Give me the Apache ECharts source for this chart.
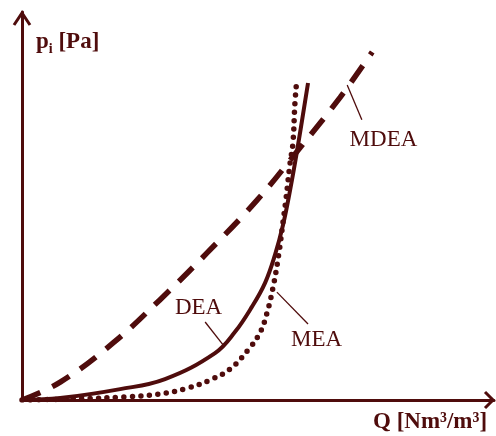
<!DOCTYPE html>
<html>
<head>
<meta charset="utf-8">
<script src="https://cdn.jsdelivr.net/npm/echarts@6/dist/echarts.min.js"></script>
<style>
  html, body { margin: 0; padding: 0; background: #fff; }
  #chart { width: 496px; height: 436px; }
</style>
</head>
<body>
<div id="chart"></div>
<script>
// 颜色 (dark maroon used for everything)
const ink = '#4f0c0c'

// curves, x and y in % of axis length
const mdeaData = [
  [0, 0], [8.1, 4.6], [19.3, 14.7], [29.2, 25.8], [39.2, 37.9],
  [49.8, 51.5], [58.9, 65.0], [67.4, 78.0], [74.2, 89.7]
]
const deaData = [
  [0, 0], [8.1, 0.5], [20.8, 2.8], [30.3, 5.4], [40.9, 12.1], [45.1, 17.5],
  [48.7, 24.0], [51.5, 30.2], [53.6, 37.4], [55.3, 45.1], [56.8, 54.1],
  [58.3, 64.4], [60.6, 81.7]
]
const meaData = [
  [0, 0], [12.3, 0.3], [21.8, 0.8], [28.8, 1.5], [35.2, 3.1], [40.3, 5.4],
  [44.1, 8.0], [47.9, 12.9], [50.4, 17.3], [51.9, 22.4], [53.2, 29.1],
  [54.4, 37.6], [55.3, 45.9], [55.9, 51.5], [56.8, 61.1], [57.4, 66.2],
  [57.8, 76.0], [58.1, 80.9]
]

// curve names, where their text sits and their leader lines
const curveNames = ['MDEA', 'DEA', 'MEA']
const labelAt = [[69.4, 67.0], [32.4, 23.6], [57.0, 15.5]]
const leaders = [
  [[68.9, 81.2], [72.0, 72.2]],
  [[38.8, 20.1], [42.6, 14.2]],
  [[54.0, 27.8], [60.6, 19.6]]
]

function leaderLine (pts) {
  return {
    silent: true,
    symbol: 'none',
    label: { show: false },
    lineStyle: { color: ink, width: 1.3, type: 'solid' },
    data: [[{ coord: pts[0] }, { coord: pts[1] }]]
  }
}

const chart = echarts.init(document.getElementById('chart'), null, { renderer: 'canvas' })

const axisCommon = {
  type: 'value',
  min: 0,
  max: 100,
  splitLine: { show: false },
  axisTick: { show: false },
  axisLabel: { show: false },
  axisLine: { show: true, lineStyle: { color: ink, width: 3 } }
}

chart.setOption({
  animation: false,
  grid: { left: 22, right: 2, top: 12, bottom: 36 },
  xAxis: axisCommon,
  yAxis: axisCommon,
  series: [
    {
      name: curveNames[0],
      type: 'line',
      data: mdeaData,
      smooth: 0.4,
      showSymbol: false,
      lineStyle: { color: ink, width: 5.5, type: [20, 13], cap: 'butt' },
      markLine: leaderLine(leaders[0])
    },
    {
      name: curveNames[1],
      type: 'line',
      data: deaData,
      smooth: 0.4,
      showSymbol: false,
      lineStyle: { color: ink, width: 4 },
      markLine: leaderLine(leaders[1])
    },
    {
      name: curveNames[2],
      type: 'line',
      data: meaData,
      smooth: 0.4,
      showSymbol: false,
      lineStyle: { color: ink, width: 5.5, type: [0, 8.5], cap: 'round' },
      markLine: leaderLine(leaders[2])
    }
  ]
})

const serif = '"Liberation Serif", "DejaVu Serif", serif'
const texts = curveNames.map((name, i) => {
  const p = chart.convertToPixel({ gridIndex: 0 }, labelAt[i])
  return {
    type: 'text',
    x: p[0],
    y: p[1],
    style: {
      text: name,
      fill: ink,
      font: '23px ' + serif,
      verticalAlign: 'middle'
    }
  }
})

// open arrow heads at the axis ends
const xEnd = chart.convertToPixel({ gridIndex: 0 }, [100, 0])
const yEnd = chart.convertToPixel({ gridIndex: 0 }, [0, 100])
texts.push({
  type: 'polyline',
  shape: { points: [[xEnd[0] - 9, xEnd[1] - 8], [xEnd[0] - 1, xEnd[1]], [xEnd[0] - 9, xEnd[1] + 8]] },
  style: { stroke: ink, lineWidth: 3, fill: null }
})
texts.push({
  type: 'polyline',
  shape: { points: [[yEnd[0] - 8, yEnd[1] + 13], [yEnd[0], yEnd[1] + 1], [yEnd[0] + 8, yEnd[1] + 13]] },
  style: { stroke: ink, lineWidth: 3, fill: null }
})

// axis titles
texts.push({
  type: 'text',
  x: 36,
  y: 42,
  style: {
    text: '{b|p}{s|i}{b| [Pa]}',
    verticalAlign: 'middle',
    rich: {
      b: { fontFamily: serif, fontWeight: 'bold', fontSize: 23, fill: ink, verticalAlign: 'middle' },
      s: { fontFamily: serif, fontWeight: 'bold', fontSize: 14, fill: ink, padding: [15, 0, 0, 0] }
    }
  }
})
texts.push({
  type: 'text',
  x: 373,
  y: 422,
  style: {
    text: 'Q [Nm³/m³]',
    fill: ink,
    font: 'bold 23px ' + serif,
    verticalAlign: 'middle'
  }
})

chart.setOption({ graphic: texts })
</script>
</body>
</html>
